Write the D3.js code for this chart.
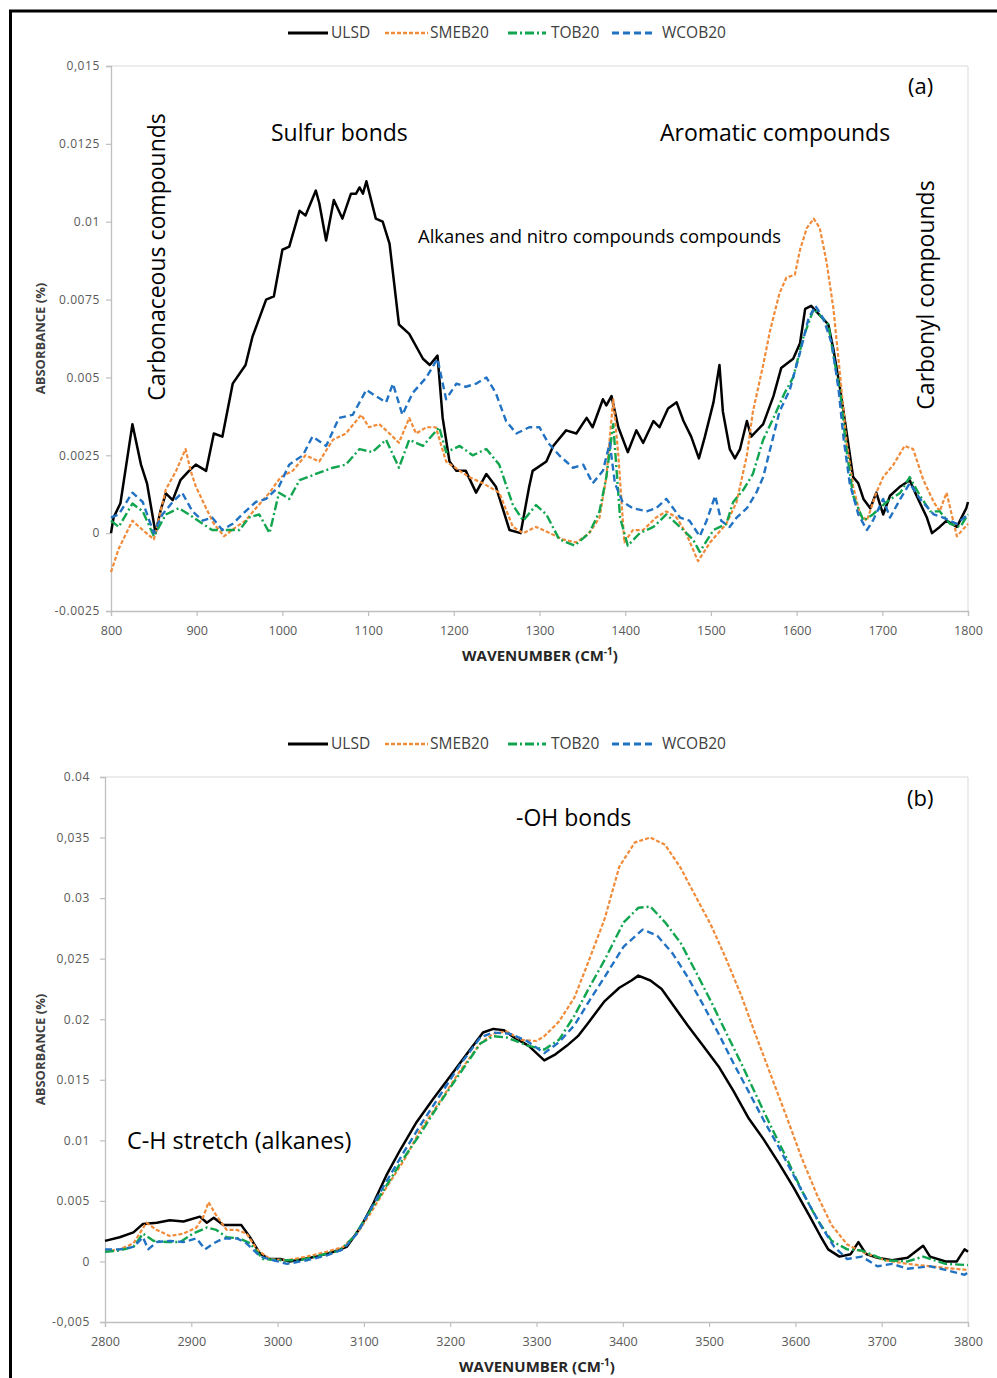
<!DOCTYPE html>
<html>
<head>
<meta charset="utf-8">
<script src="https://cdn.jsdelivr.net/npm/d3@7"></script>
<style>
  body { margin: 0; background: #fff; }
  svg { display: block; }
</style>
</head>
<body>
<svg id="chart" width="997" height="1378"></svg>
<script>
// ---------- Series ----------
const seriesNames = ["ULSD", "SMEB20", "TOB20", "WCOB20"];

// ---------- Panel (a): 800–1800 cm-1 ----------
const wavenumberTicksA = [800, 900, 1000, 1100, 1200, 1300, 1400, 1500, 1600, 1700, 1800];
const absorbanceTicksA = [-0.0025, 0, 0.0025, 0.005, 0.0075, 0.01, 0.0125, 0.015];
const absorbanceLabelsA = ["-0.0025", "0", "0.0025", "0.005", "0.0075", "0.01", "0.0125", "0,015"];

const ulsdA = [[800,0],[803,0.0005],[811,0.00096],[825,0.0035],[835,0.0022],[842,0.0016],[852,0],[858,0.00074],[864,0.00128],[872,0.00106],[881,0.0017],[891,0.002],[899,0.0022],[911,0.002],[920,0.0032],[930,0.0031],[942,0.0048],[957,0.0054],[965,0.0063],[981,0.0075],[990,0.0076],[1000,0.0091],[1008,0.0092],[1020,0.01035],[1027,0.0102],[1039,0.011],[1043,0.0106],[1051,0.0094],[1060,0.0107],[1070,0.0101],[1080,0.0109],[1086,0.0109],[1090,0.0111],[1094,0.0109],[1098,0.0113],[1109,0.0101],[1117,0.01],[1125,0.0093],[1136,0.0067],[1148,0.0064],[1164,0.0056],[1172,0.0054],[1181,0.0057],[1187,0.0037],[1195,0.0023],[1203,0.002],[1214,0.002],[1226,0.0013],[1238,0.0019],[1249,0.0015],[1265,0.0001],[1278,0],[1288,0.0015],[1292,0.002],[1308,0.0023],[1316,0.0028],[1331,0.0033],[1343,0.0032],[1355,0.0037],[1362,0.0034],[1374,0.0043],[1378,0.0041],[1384,0.0044],[1392,0.0034],[1403,0.0026],[1413,0.0033],[1421,0.0029],[1433,0.0036],[1440,0.0034],[1450,0.004],[1460,0.0042],[1468,0.0036],[1477,0.0031],[1486,0.0024],[1493,0.0031],[1503,0.0042],[1510,0.0054],[1514,0.0039],[1522,0.0027],[1528,0.0024],[1534,0.0027],[1542,0.0036],[1547,0.0031],[1561,0.0035],[1573,0.0044],[1582,0.0053],[1596,0.0056],[1604,0.0061],[1610,0.0072],[1617,0.0073],[1627,0.007],[1637,0.0067],[1643,0.0059],[1651,0.0046],[1658,0.0033],[1666,0.0018],[1672,0.0016],[1678,0.0011],[1686,0.0008],[1693,0.0013],[1701,0.0006],[1709,0.0012],[1721,0.0015],[1732,0.0017],[1740,0.0012],[1752,0.0005],[1758,0],[1767,0.0002],[1775,0.0004],[1787,0.0002],[1798,0.0008],[1800,0.001]];

const smeb20A = [[800,-0.00125],[809,-0.0005],[825,0.0004],[837,0.0001],[850,-0.0002],[864,0.0014],[876,0.002],[887,0.0027],[893,0.002],[899,0.0015],[911,0.0008],[920,0.0003],[932,-0.0001],[946,0.0002],[957,0.0004],[969,0.0008],[985,0.0013],[998,0.0018],[1012,0.002],[1027,0.0025],[1043,0.0023],[1059,0.003],[1074,0.0032],[1092,0.0038],[1101,0.0034],[1113,0.0035],[1125,0.0032],[1136,0.0029],[1148,0.0037],[1156,0.0032],[1168,0.0034],[1179,0.0034],[1191,0.0023],[1207,0.002],[1218,0.0018],[1234,0.0016],[1253,0.0013],[1269,0.0002],[1281,0],[1296,0.0002],[1312,0],[1327,-0.0002],[1343,-0.0003],[1358,0],[1370,0.0005],[1378,0.0018],[1386,0.0043],[1392,0.0025],[1399,-0.0003],[1409,0.0001],[1421,0.0001],[1436,0.0005],[1448,0.0007],[1460,0.0005],[1471,0],[1485,-0.0009],[1499,-0.0003],[1518,0.0003],[1530,0.001],[1542,0.0025],[1549,0.0039],[1561,0.0054],[1569,0.0065],[1580,0.0077],[1588,0.0082],[1598,0.0083],[1604,0.0091],[1612,0.0098],[1620,0.0101],[1627,0.0098],[1635,0.0087],[1643,0.0072],[1651,0.005],[1658,0.003],[1666,0.0015],[1674,0.0006],[1682,0.0004],[1693,0.0013],[1701,0.0018],[1713,0.0022],[1726,0.0028],[1736,0.0027],[1748,0.0017],[1760,0.001],[1767,0.0007],[1775,0.0013],[1787,-0.0001],[1800,0.0003]];

const tob20A = [[800,0.0004],[809,0.0002],[825,0.00095],[837,0.0007],[850,-0.0001],[864,0.0006],[879,0.0008],[891,0.0006],[907,0.0003],[918,0.0001],[934,0.0001],[950,0.0001],[961,0.0005],[973,0.0006],[985,0],[996,0.0013],[1008,0.0011],[1020,0.0017],[1039,0.0019],[1059,0.0021],[1074,0.0022],[1090,0.0027],[1105,0.0026],[1121,0.003],[1136,0.0021],[1148,0.003],[1164,0.0028],[1183,0.0034],[1191,0.0026],[1207,0.0028],[1222,0.0025],[1238,0.0027],[1253,0.0022],[1269,0.0009],[1281,0.0004],[1296,0.0009],[1308,0.0006],[1323,-0.0002],[1341,-0.0004],[1358,0],[1370,0.0007],[1378,0.0018],[1386,0.0035],[1394,0.0005],[1403,-0.0004],[1417,0],[1433,0.0002],[1448,0.0006],[1464,0.0002],[1479,-0.0002],[1487,-0.0006],[1503,0.0001],[1518,0.0003],[1526,0.001],[1538,0.0014],[1549,0.0019],[1561,0.003],[1573,0.0037],[1586,0.0045],[1596,0.005],[1608,0.0063],[1620,0.0072],[1627,0.007],[1637,0.0067],[1643,0.0057],[1651,0.0045],[1658,0.0027],[1666,0.0012],[1678,0.0004],[1689,0.0006],[1705,0.001],[1721,0.0013],[1732,0.0018],[1744,0.0012],[1756,0.0007],[1767,0.0007],[1779,0.0003],[1791,0.0002],[1800,0.0006]];

const wcob20A = [[800,0.0005],[809,0.0006],[825,0.0013],[837,0.001],[850,0],[860,0.0006],[872,0.001],[883,0.0013],[895,0.0007],[907,0.0004],[918,0.0005],[930,0.0001],[942,0.0003],[953,0.0006],[969,0.001],[981,0.0011],[996,0.0015],[1008,0.0022],[1024,0.0025],[1035,0.0031],[1051,0.0028],[1066,0.0037],[1082,0.0038],[1098,0.0046],[1109,0.0044],[1121,0.0042],[1129,0.0048],[1140,0.0038],[1152,0.0045],[1168,0.005],[1181,0.0056],[1191,0.0043],[1203,0.0048],[1214,0.0047],[1226,0.0048],[1238,0.005],[1249,0.0045],[1261,0.0036],[1273,0.0032],[1288,0.0034],[1300,0.0034],[1310,0.0029],[1323,0.0025],[1339,0.0021],[1351,0.0022],[1362,0.0016],[1374,0.002],[1382,0.0029],[1388,0.0016],[1397,0.001],[1409,0.0008],[1425,0.0007],[1436,0.0008],[1448,0.0011],[1464,0.0005],[1475,0.0004],[1487,-0.0001],[1495,0.0004],[1505,0.0012],[1512,0.0004],[1522,0.0002],[1530,0.0005],[1542,0.0008],[1553,0.0013],[1561,0.0018],[1571,0.0029],[1580,0.0039],[1592,0.0046],[1604,0.0058],[1614,0.0069],[1622,0.0073],[1631,0.0069],[1641,0.0061],[1649,0.0046],[1655,0.003],[1662,0.0016],[1672,0.0006],[1682,0.0001],[1689,0.0004],[1701,0.0011],[1709,0.0005],[1721,0.0011],[1732,0.0016],[1744,0.0011],[1760,0.0006],[1771,0.0005],[1787,0.0003],[1800,0.0006]];

// ---------- Panel (b): 2800–3800 cm-1 ----------
const wavenumberTicksB = [2800, 2900, 3000, 3100, 3200, 3300, 3400, 3500, 3600, 3700, 3800];
const absorbanceTicksB = [-0.005, 0, 0.005, 0.01, 0.015, 0.02, 0.025, 0.03, 0.035, 0.04];
const absorbanceLabelsB = ["-0,005", "0", "0.005", "0.01", "0.015", "0.02", "0,025", "0.03", "0,035", "0.04"];

const ulsdB = [[2800,0.0017],[2817,0.002],[2833,0.0024],[2844,0.0031],[2860,0.0032],[2875,0.0034],[2891,0.0033],[2910,0.0037],[2918,0.0032],[2926,0.0036],[2937,0.003],[2949,0.003],[2958,0.003],[2968,0.002],[2980,0.0006],[2991,0.0002],[3003,0.0002],[3014,0],[3030,0.0002],[3045,0.0004],[3065,0.0008],[3080,0.0012],[3096,0.0028],[3111,0.0048],[3126,0.0071],[3142,0.0092],[3161,0.0115],[3180,0.0134],[3200,0.0153],[3219,0.0171],[3238,0.0189],[3250,0.0192],[3262,0.0191],[3274,0.0185],[3291,0.0178],[3309,0.0166],[3322,0.0171],[3335,0.0178],[3348,0.0186],[3361,0.0198],[3379,0.0215],[3396,0.0226],[3410,0.0232],[3418,0.0236],[3432,0.0232],[3445,0.0225],[3458,0.0212],[3475,0.0195],[3493,0.0178],[3511,0.0161],[3528,0.0141],[3546,0.0118],[3563,0.0101],[3581,0.0081],[3598,0.0061],[3616,0.0038],[3629,0.0021],[3638,0.001],[3651,0.0004],[3664,0.0006],[3673,0.0016],[3682,0.0006],[3695,0.0003],[3712,0.0001],[3730,0.0003],[3748,0.0013],[3756,0.0004],[3774,0],[3787,0],[3796,0.001],[3800,0.0008]];

const smeb20B = [[2800,0.0008],[2817,0.001],[2833,0.0015],[2848,0.0032],[2860,0.0026],[2875,0.0021],[2891,0.0023],[2906,0.0028],[2914,0.0037],[2920,0.0049],[2928,0.0039],[2941,0.0026],[2953,0.0026],[2964,0.0023],[2976,0.001],[2991,0.0002],[3011,0.0001],[3034,0.0004],[3057,0.0008],[3076,0.0012],[3092,0.0023],[3107,0.0039],[3126,0.0061],[3146,0.0083],[3165,0.0108],[3188,0.0132],[3211,0.0157],[3235,0.018],[3250,0.0188],[3265,0.019],[3282,0.0183],[3300,0.0182],[3309,0.0186],[3326,0.0198],[3344,0.0218],[3361,0.0249],[3379,0.0283],[3396,0.0326],[3414,0.0346],[3432,0.035],[3449,0.0344],[3467,0.0325],[3484,0.0302],[3502,0.0278],[3519,0.0251],[3537,0.022],[3554,0.0187],[3572,0.0153],[3590,0.0119],[3607,0.0086],[3625,0.0055],[3642,0.003],[3660,0.0014],[3677,0.0008],[3704,0.0001],[3730,-0.0002],[3756,-0.0004],[3783,-0.0006],[3800,-0.0007]];

const tob20B = [[2800,0.0008],[2817,0.0009],[2833,0.0012],[2844,0.0023],[2856,0.0017],[2872,0.0016],[2887,0.0016],[2902,0.0023],[2918,0.0028],[2929,0.0026],[2941,0.002],[2956,0.0019],[2968,0.0015],[2983,0.0002],[3003,0.0001],[3026,0.0001],[3049,0.0005],[3072,0.0009],[3088,0.002],[3103,0.0037],[3123,0.0059],[3142,0.0081],[3165,0.0105],[3188,0.0131],[3211,0.0155],[3235,0.018],[3250,0.0186],[3265,0.0185],[3291,0.0178],[3309,0.0175],[3326,0.0183],[3344,0.0203],[3361,0.0226],[3379,0.0249],[3401,0.028],[3418,0.0292],[3432,0.0293],[3449,0.028],[3467,0.0263],[3484,0.024],[3502,0.0215],[3519,0.019],[3537,0.0164],[3554,0.0138],[3572,0.0111],[3590,0.0085],[3607,0.0059],[3625,0.0035],[3642,0.0017],[3660,0.001],[3677,0.0009],[3704,0.0001],[3730,0],[3748,0.0004],[3774,-0.0002],[3800,-0.0003]];

const wcob20B = [[2800,0.001],[2817,0.001],[2833,0.0012],[2844,0.002],[2850,0.001],[2860,0.0016],[2875,0.0017],[2891,0.0016],[2906,0.0019],[2916,0.001],[2926,0.0015],[2937,0.0019],[2953,0.0019],[2964,0.0015],[2980,0.0004],[2995,0.0001],[3011,-0.0002],[3034,0.0001],[3057,0.0005],[3076,0.001],[3092,0.0023],[3107,0.0042],[3126,0.0066],[3146,0.009],[3165,0.0112],[3188,0.0137],[3211,0.0162],[3235,0.0185],[3250,0.0189],[3269,0.0188],[3289,0.0182],[3309,0.0172],[3326,0.0181],[3344,0.0195],[3361,0.0215],[3379,0.0235],[3401,0.026],[3423,0.0274],[3440,0.0269],[3458,0.0254],[3475,0.0235],[3493,0.0212],[3511,0.0188],[3528,0.0164],[3546,0.014],[3563,0.0117],[3581,0.0094],[3598,0.0071],[3616,0.0047],[3630,0.0029],[3645,0.0012],[3660,0.0002],[3677,0.0004],[3695,-0.0004],[3712,-0.0002],[3730,-0.0006],[3756,-0.0004],[3774,-0.0007],[3796,-0.0011],[3800,-0.0009]];

// ---------- Styling ----------
const seriesStyle = {
  "ULSD":   { color: "#000000", dash: null,       width: 2.5 },
  "SMEB20": { color: "#F08B3A", dash: "4,2",      width: 2.2 },
  "TOB20":  { color: "#10A54E", dash: "9,3,2,3",  width: 2.4 },
  "WCOB20": { color: "#2272C3", dash: "7,4",      width: 2.4 }
};

const textFont = "'Open Sans', 'Noto Sans', sans-serif";
const tickColor = "#595959";
const axisColor = "#BFBFBF";

const svg = d3.select("#chart");
svg.append("rect").attr("width", 997).attr("height", 1378).attr("fill", "#fff");

// outer frame (left and top edges)
svg.append("path")
  .attr("d", "M10.5,1378 L10.5,11 L997,11")
  .attr("fill", "none").attr("stroke", "#000").attr("stroke-width", 3);

function drawPanel(cfg) {
  const g = svg.append("g");
  const x = d3.scaleLinear().domain(cfg.xDomain).range([cfg.left, cfg.right]);
  const y = d3.scaleLinear().domain(cfg.yDomain).range([cfg.bottom, cfg.top]);

  // plot area border (top and right)
  g.append("path")
    .attr("d", `M${cfg.left},${cfg.top} L${cfg.right},${cfg.top} L${cfg.right},${cfg.bottom}`)
    .attr("fill", "none").attr("stroke", "#D9D9D9").attr("stroke-width", 1);

  // x axis
  const xAxis = d3.axisBottom(x).tickValues(cfg.xTicks).tickSize(5).tickPadding(9)
    .tickFormat(d3.format("d"));
  const gx = g.append("g").attr("transform", `translate(0,${cfg.bottom})`).call(xAxis);
  gx.select(".domain").attr("stroke", axisColor).attr("stroke-width", 1.3);
  gx.selectAll(".tick line").attr("stroke", axisColor).attr("stroke-width", 1.2);
  gx.selectAll(".tick text").attr("fill", tickColor).attr("font-family", textFont)
    .attr("font-size", 13.5)
    .attr("textLength", d => String(d).length * 7.2)
    .attr("lengthAdjust", "spacingAndGlyphs");

  // y axis
  const yAxis = d3.axisLeft(y).tickValues(cfg.yTicks).tickSize(5).tickPadding(cfg.yPad)
    .tickFormat((d, i) => cfg.yLabels[i]);
  const gy = g.append("g").attr("transform", `translate(${cfg.left},0)`).call(yAxis);
  gy.select(".domain").attr("stroke", axisColor).attr("stroke-width", 1.3);
  gy.selectAll(".tick line").attr("stroke", axisColor).attr("stroke-width", 1.2);
  gy.selectAll(".tick text").attr("fill", tickColor).attr("font-family", textFont)
    .attr("font-size", 12).attr("letter-spacing", 0.6);

  // axis titles
  g.append("text")
    .attr("transform", `translate(${cfg.yTitleX},${(cfg.top + cfg.bottom) / 2}) rotate(-90)`)
    .attr("text-anchor", "middle").attr("font-family", textFont).attr("font-weight", 700)
    .attr("font-size", 13).attr("fill", "#404040").text("ABSORBANCE (%)");

  const xt = g.append("text")
    .attr("x", cfg.xTitleX).attr("y", cfg.xTitleY)
    .attr("text-anchor", "middle").attr("font-family", textFont).attr("font-weight", 700)
    .attr("font-size", 15).attr("fill", "#262626");
  xt.append("tspan").text("WAVENUMBER (CM");
  xt.append("tspan").attr("font-size", 10).attr("dy", -6).text("-1");
  xt.append("tspan").attr("dy", 6).text(")");

  // spectra
  const line = d3.line().x(d => x(d[0])).y(d => y(d[1]));
  cfg.series.forEach((data, i) => {
    const st = seriesStyle[seriesNames[i]];
    g.append("path").datum(data)
      .attr("d", line)
      .attr("fill", "none")
      .attr("stroke", st.color)
      .attr("stroke-width", st.width)
      .attr("stroke-linejoin", "round")
      .attr("stroke-dasharray", st.dash);
  });

  // legend
  const legendItems = [
    { name: "ULSD",   x1: 288, x2: 328, tx: 331 },
    { name: "SMEB20", x1: 385, x2: 428, tx: 430 },
    { name: "TOB20",  x1: 508, x2: 546, tx: 551 },
    { name: "WCOB20", x1: 612, x2: 655, tx: 662 }
  ];
  const lg = g.append("g");
  legendItems.forEach(it => {
    const st = seriesStyle[it.name];
    lg.append("line").attr("x1", it.x1).attr("x2", it.x2)
      .attr("y1", cfg.legendY).attr("y2", cfg.legendY)
      .attr("stroke", st.color).attr("stroke-width", st.width + 0.4)
      .attr("stroke-dasharray", st.dash);
    lg.append("text").attr("x", it.tx).attr("y", cfg.legendY + 5)
      .attr("font-family", textFont).attr("font-size", 15.5).attr("fill", "#404040")
      .text(it.name);
  });

  // annotations
  cfg.notes.forEach(n => {
    const t = g.append("text")
      .attr("font-family", textFont).attr("font-size", n.size).attr("fill", "#000")
      .attr("text-anchor", n.anchor || "start")
      .text(n.text);
    if (n.rotate) {
      t.attr("transform", `translate(${n.x},${n.y}) rotate(-90)`);
    } else {
      t.attr("x", n.x).attr("y", n.y);
    }
  });
}

drawPanel({
  xDomain: [800, 1800], yDomain: [-0.0025, 0.015],
  left: 111, right: 968, top: 66, bottom: 611,
  xTicks: wavenumberTicksA, yTicks: absorbanceTicksA, yLabels: absorbanceLabelsA, yPad: 6,
  yTitleX: 45, xTitleX: 540, xTitleY: 661, legendY: 33,
  series: [ulsdA, smeb20A, tob20A, wcob20A],
  notes: [
    { text: "Sulfur bonds", x: 271, y: 141, size: 23 },
    { text: "Aromatic compounds", x: 660, y: 141, size: 23 },
    { text: "Alkanes and nitro compounds compounds", x: 418, y: 243, size: 18.4 },
    { text: "Carbonaceous compounds", x: 165, y: 257, size: 23, rotate: true, anchor: "middle" },
    { text: "Carbonyl compounds", x: 934, y: 295, size: 23, rotate: true, anchor: "middle" },
    { text: "(a)", x: 908, y: 94, size: 22 }
  ]
});

drawPanel({
  xDomain: [2800, 3800], yDomain: [-0.005, 0.04],
  left: 105, right: 968, top: 777, bottom: 1322,
  xTicks: wavenumberTicksB, yTicks: absorbanceTicksB, yLabels: absorbanceLabelsB, yPad: 10,
  yTitleX: 45, xTitleX: 537, xTitleY: 1372, legendY: 744,
  series: [ulsdB, smeb20B, tob20B, wcob20B],
  notes: [
    { text: "-OH bonds", x: 516, y: 826, size: 23 },
    { text: "C-H stretch (alkanes)", x: 127, y: 1149, size: 23.4 },
    { text: "(b)", x: 907, y: 806, size: 22 }
  ]
});
</script>
</body>
</html>
